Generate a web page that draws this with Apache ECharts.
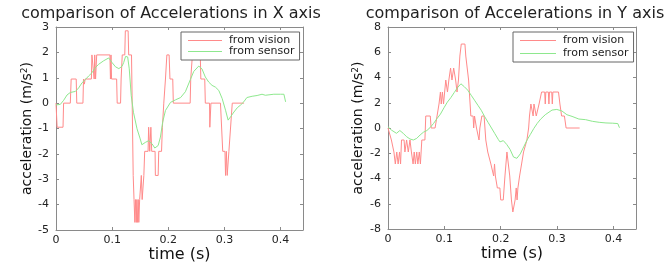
<!DOCTYPE html>
<html>
<head>
<meta charset="utf-8">
<script src="https://cdn.jsdelivr.net/npm/echarts@6/dist/echarts.min.js"></script>
<style>
  html, body { margin: 0; padding: 0; background: #fff; }
  #main { width: 671px; height: 265px; }
</style>
</head>
<body>
<div id="main"></div>
<script>
// X axis, camera (stepped) readings
const visionXTime = [0, 0.002, 0.0125, 0.0135, 0.0255, 0.027, 0.036, 0.037, 0.048, 0.049, 0.0505, 0.052, 0.063, 0.064, 0.067, 0.068, 0.069, 0.0705, 0.0725, 0.096, 0.097, 0.098, 0.099, 0.108, 0.109, 0.115, 0.116, 0.118, 0.1225, 0.1235, 0.1285, 0.1295, 0.1345, 0.1375, 0.139, 0.1405, 0.1415, 0.143, 0.144, 0.145, 0.1465, 0.1475, 0.149, 0.151, 0.152, 0.1535, 0.155, 0.1565, 0.158, 0.164, 0.165, 0.167, 0.169, 0.1705, 0.1765, 0.177, 0.182, 0.183, 0.188, 0.1895, 0.192, 0.195, 0.1975, 0.2015, 0.203, 0.208, 0.209, 0.239, 0.240, 0.243, 0.257, 0.258, 0.265, 0.266, 0.2735, 0.274, 0.2755, 0.276, 0.293, 0.297, 0.301, 0.302, 0.3035, 0.305, 0.307, 0.308, 0.31, 0.314, 0.335]
const visionXAcc = [0, -0.95, -0.95, 0, 0, 0.95, 0.95, 0, 0, 0.95, 0.75, 0.95, 0.95, 1.9, 1.9, 0.95, 1.9, 0.95, 1.9, 1.9, 0.95, 1.9, 0.95, 0.95, 0, 0, 0.95, 1.9, 1.9, 2.85, 2.85, 1.9, 1.9, -2.85, -3.8, -4.7, -3.8, -4.7, -3.8, -4.7, -3.8, -4.7, -3.8, -3.8, -2.85, -3.8, -3.8, -2.85, -1.9, -1.9, -0.95, -1.9, -0.95, -1.9, -1.9, -2.85, -2.85, -1.9, -1.9, -0.95, 0, 0.95, 1.9, 1.9, 0.95, 0.95, 0, 0, 0.95, 1.9, 1.9, 0.95, 0.95, 0, 0, -0.95, -0.95, 0, 0, -1.9, -1.9, -2.85, -1.9, -2.85, -2.85, -1.9, -1.9, 0, 0]

// X axis, sensor readings
const sensorXTime = [0, 0.0077, 0.0136, 0.0196, 0.0255, 0.0345, 0.0404, 0.0463, 0.0523, 0.0582, 0.0642, 0.0701, 0.076, 0.085, 0.0939, 0.0998, 0.106, 0.112, 0.1176, 0.1206, 0.124, 0.1277, 0.1305, 0.134, 0.138, 0.1443, 0.15, 0.153, 0.159, 0.165, 0.171, 0.176, 0.182, 0.186, 0.19, 0.195, 0.204, 0.213, 0.222, 0.2305, 0.2394, 0.2454, 0.2543, 0.26, 0.266, 0.272, 0.278, 0.284, 0.29, 0.296, 0.302, 0.3066, 0.311, 0.317, 0.323, 0.3286, 0.3345, 0.34, 0.3494, 0.3583, 0.367, 0.373, 0.376, 0.388, 0.4, 0.406, 0.409]
const sensorXAcc = [-0.07, -0.05, 0.11, 0.32, 0.42, 0.46, 0.6, 0.8, 0.93, 1.07, 1.2, 1.4, 1.53, 1.67, 1.78, 1.6, 1.43, 1.36, 1.45, 1.6, 1.84, 1.82, 1.35, 0.3, -0.36, -1.01, -1.41, -1.64, -1.55, -1.48, -1.6, -1.77, -1.67, -1.34, -0.75, -0.29, 0.03, 0.13, 0.22, 0.45, 0.93, 1.25, 1.46, 1.35, 1.03, 0.83, 0.7, 0.63, 0.5, 0.18, -0.28, -0.67, -0.54, -0.35, -0.18, -0.08, 0.05, 0.22, 0.27, 0.3, 0.35, 0.31, 0.35, 0.35, 0.35, 0.35, 0.05]

// Y axis, camera (stepped) readings
const visionYTime = [0, 0.003, 0.006, 0.0105, 0.013, 0.0155, 0.018, 0.0205, 0.0223, 0.024, 0.0285, 0.03, 0.033, 0.036, 0.039, 0.0415, 0.0445, 0.0465, 0.0485, 0.051, 0.053, 0.0555, 0.0575, 0.06, 0.0655, 0.067, 0.075, 0.0765, 0.0835, 0.087, 0.0895, 0.0905, 0.093, 0.0945, 0.0965, 0.0985, 0.1, 0.1025, 0.1055, 0.108, 0.111, 0.1135, 0.1165, 0.12, 0.1225, 0.125, 0.1275, 0.130, 0.1365, 0.138, 0.1405, 0.143, 0.147, 0.151, 0.152, 0.1535, 0.156, 0.157, 0.160, 0.1615, 0.163, 0.1655, 0.1665, 0.1705, 0.1735, 0.177, 0.1805, 0.1825, 0.1855, 0.1875, 0.189, 0.1905, 0.192, 0.194, 0.1985, 0.2, 0.2045, 0.2075, 0.211, 0.2135, 0.216, 0.219, 0.2215, 0.2235, 0.2255, 0.2275, 0.229, 0.2305, 0.2335, 0.237, 0.2405, 0.2435, 0.2465, 0.2495, 0.251, 0.2535, 0.2555, 0.2575, 0.259, 0.2615, 0.263, 0.2665, 0.268, 0.2725, 0.278, 0.279, 0.280, 0.2845, 0.2855, 0.2865, 0.2905, 0.2915, 0.2925, 0.3025, 0.305, 0.308, 0.313, 0.316, 0.34]
const visionYAcc = [0, 0, -0.95, -1.9, -2.85, -1.9, -2.85, -1.9, -2.85, -0.95, -0.95, -1.9, -0.95, -1.9, -0.95, -1.9, -2.85, -1.9, -2.85, -1.9, -2.85, -1.9, -2.85, -0.95, -0.95, 0.95, 0.95, 0, 0, 0.95, 0.95, 1.9, 2.85, 1.9, 2.85, 1.9, 1.9, 3.8, 2.85, 3.8, 4.75, 3.8, 4.75, 3.8, 2.85, 3.8, 5.7, 6.65, 6.65, 5.7, 5.7, 3.8, 0.95, 0.95, 0, 0.95, 0.95, 0, 0, -0.95, 0, 0, 0.95, 0.95, -0.95, -1.9, -1.9, -2.85, -2.85, -3.8, -2.85, -3.8, -3.8, -4.75, -4.75, -5.7, -5.7, -3.8, -1.9, -1.9, -3.8, -5.7, -6.65, -6.65, -5.7, -4.75, -5.7, -4.75, -3.8, -2.85, -1.9, -1.9, -0.95, 0, 0.95, 1.9, 1.9, 0.95, 1.9, 1.9, 0.95, 0.95, 1.9, 2.85, 2.85, 1.9, 2.85, 2.85, 1.9, 2.85, 2.85, 1.9, 2.85, 2.85, 1.9, 0.95, 0.95, 0, 0]

// Y axis, sensor readings
const sensorYTime = [0, 0.006, 0.015, 0.021, 0.027, 0.033, 0.039, 0.045, 0.051, 0.057, 0.063, 0.069, 0.075, 0.081, 0.087, 0.093, 0.0993, 0.1053, 0.1114, 0.1174, 0.1234, 0.1294, 0.1354, 0.1414, 0.1475, 0.1535, 0.1595, 0.1655, 0.1715, 0.1775, 0.1836, 0.1896, 0.1956, 0.1986, 0.2046, 0.2106, 0.2166, 0.2227, 0.2287, 0.2347, 0.2407, 0.2467, 0.2527, 0.2588, 0.2648, 0.2708, 0.279, 0.291, 0.2995, 0.3085, 0.3175, 0.3265, 0.3386, 0.3506, 0.3626, 0.3747, 0.3867, 0.3987, 0.4077, 0.4107]
const sensorYAcc = [0.1, -0.16, -0.42, -0.2, -0.42, -0.69, -0.87, -0.95, -0.82, -0.55, -0.33, -0.2, 0.05, 0.37, 0.75, 1.1, 1.6, 2.05, 2.4, 2.8, 3.2, 3.5, 3.27, 3.0, 2.6, 2.2, 1.8, 1.4, 0.9, 0.45, 0.0, -0.45, -0.9, -1.1, -1.0, -1.3, -1.7, -2.3, -2.4, -2.05, -1.5, -0.95, -0.5, -0.03, 0.37, 0.7, 1.05, 1.42, 1.47, 1.35, 1.05, 0.92, 0.71, 0.66, 0.53, 0.45, 0.4, 0.38, 0.35, 0.02]

const seriesNames = ['from vision', 'from sensor']
const titles = ['comparison of Accelerations in X axis', 'comparison of Accelerations in Y axis']

const zip = (ts, vs) => ts.map((t, i) => [t, vs[i]])

const axisGray = '#8a8a8a'
const fontFam = 'DejaVu Sans'

var myChart = echarts.init(document.getElementById('main'), null, { renderer: 'canvas' })

const xAxisBase = (gridIndex, show) => ({
  type: 'value',
  gridIndex: gridIndex,
  position: show ? 'bottom' : 'top',
  min: 0,
  max: 0.44,
  interval: 0.1,
  splitLine: { show: false },
  axisLine: { show: true, onZero: false, lineStyle: { color: axisGray, width: 1 } },
  axisTick: { show: true, inside: true, length: 3, lineStyle: { color: axisGray } },
  axisLabel: {
    show: show,
    margin: 5,
    color: '#222',
    fontSize: 11,
    fontFamily: fontFam,
    showMaxLabel: false,
    formatter: v => (Math.abs(v * 10 - Math.round(v * 10)) < 1e-6 ? String(Math.round(v * 10) / 10) : '')
  },
  name: show ? 'time (s)' : '',
  nameLocation: 'middle',
  nameGap: 17,
  nameMoveOverlap: false,
  nameTextStyle: { fontSize: 16, color: '#111', fontFamily: fontFam }
})

const yAxisBase = (gridIndex, show, min, max, interval, gap) => ({
  type: 'value',
  gridIndex: gridIndex,
  position: show ? 'left' : 'right',
  min: min,
  max: max,
  interval: interval,
  splitLine: { show: false },
  axisLine: { show: true, onZero: false, lineStyle: { color: axisGray, width: 1 } },
  axisTick: { show: true, inside: true, length: 3, lineStyle: { color: axisGray } },
  axisLabel: { show: show, margin: 7, color: '#222', fontSize: 11, fontFamily: fontFam },
  name: show ? 'acceleration (m/s{sup|2})' : '',
  nameLocation: 'middle',
  nameGap: gap,
  nameMoveOverlap: false,
  nameTextStyle: {
    fontSize: 14, color: '#111', fontFamily: fontFam,
    rich: { sup: { fontSize: 9, verticalAlign: 'top', color: '#111', fontFamily: fontFam } }
  }
})

const lineSeries = (name, data, xi, yi, color) => ({
  name: name,
  type: 'line',
  xAxisIndex: xi,
  yAxisIndex: yi,
  data: data,
  symbol: 'none',
  showSymbol: false,
  smooth: false,
  lineStyle: { color: color, width: 1 },
  itemStyle: { color: color },
  animation: false
})

const legendBase = (left, top, itemWidth, gap) => ({
  orient: 'vertical',
  left: left,
  top: top,
  data: seriesNames.map(n => ({ name: n, icon: 'rect' })),
  backgroundColor: '#fff',
  borderColor: '#666',
  borderWidth: 1,
  padding: [3, 5, 3, 7],
  itemWidth: itemWidth,
  itemHeight: 1,
  itemGap: gap,
  selectedMode: false,
  textStyle: { fontSize: 11, color: '#222', fontFamily: fontFam, padding: [0, 0, 0, 2] }
})

const redLine = '#ff8a8a'
const greenLine = '#8ee88e'

var option = {
  backgroundColor: '#fff',
  animation: false,
  title: [
    { text: titles[0], left: 166, top: 1, textAlign: 'center',
      textStyle: { fontSize: 16, fontWeight: 'normal', color: '#222', fontFamily: fontFam } },
    { text: titles[1], left: 510, top: 1, textAlign: 'center',
      textStyle: { fontSize: 16, fontWeight: 'normal', color: '#222', fontFamily: fontFam } }
  ],
  legend: [
    legendBase(181, 32, 34, 0),
    legendBase(513, 32, 36, 2)
  ],
  grid: [
    { left: 56, top: 27, width: 247, height: 203, outerBoundsMode: 'none', containLabel: false },
    { left: 388, top: 27, width: 248, height: 202, outerBoundsMode: 'none', containLabel: false }
  ],
  xAxis: [
    xAxisBase(0, true),
    xAxisBase(0, false),
    xAxisBase(1, true),
    xAxisBase(1, false)
  ],
  yAxis: [
    yAxisBase(0, true, -5, 3, 1, 22),
    yAxisBase(0, false, -5, 3, 1, 22),
    yAxisBase(1, true, -8, 8, 2, 23),
    yAxisBase(1, false, -8, 8, 2, 23)
  ],
  series: [
    lineSeries(seriesNames[0], zip(visionXTime, visionXAcc), 0, 0, redLine),
    lineSeries(seriesNames[1], zip(sensorXTime, sensorXAcc), 0, 0, greenLine),
    lineSeries(seriesNames[0], zip(visionYTime, visionYAcc), 2, 2, redLine),
    lineSeries(seriesNames[1], zip(sensorYTime, sensorYAcc), 2, 2, greenLine)
  ]
}

myChart.setOption(option)
</script>
</body>
</html>
